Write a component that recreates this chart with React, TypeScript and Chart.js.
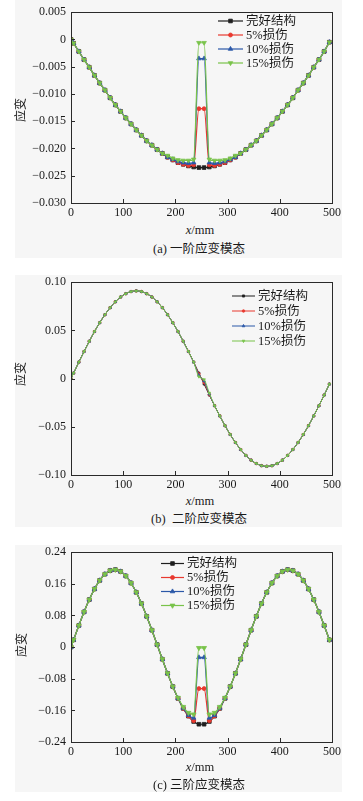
import React, { useEffect, useRef } from "react";
import { Chart, registerables } from "chart.js";

Chart.register(...registerables);

// ---------- data ----------
const xPos = [
  0, 5, 15, 25, 35, 45, 55, 65, 75, 85,
  95, 105, 115, 125, 135, 145, 155, 165, 175, 185,
  195, 205, 215, 225, 235, 245, 255, 265, 275, 285,
  295, 305, 315, 325, 335, 345, 355, 365, 375, 385,
  395, 405, 415, 425, 435, 445, 455, 465, 475, 485,
  495,
];

const legendLabels = ["完好结构", "5%损伤", "10%损伤", "15%损伤"];

const xTickVals = [0, 100, 200, 300, 400, 500];
const xTickLabels = ["0", "100", "200", "300", "400", "500"];

// (a) first-order strain mode
const intactA = [
  0, -0.0007, -0.0022, -0.0037, -0.0051, -0.0066, -0.008, -0.0093, -0.0107, -0.012,
  -0.0132, -0.0144, -0.0155, -0.0166, -0.0176, -0.0186, -0.0194, -0.0202, -0.0209, -0.0216,
  -0.0221, -0.0226, -0.0229, -0.0232, -0.0234, -0.0235, -0.0235, -0.0234, -0.0232, -0.0229,
  -0.0226, -0.0221, -0.0216, -0.0209, -0.0202, -0.0194, -0.0186, -0.0176, -0.0166, -0.0155,
  -0.0144, -0.0132, -0.012, -0.0107, -0.0093, -0.008, -0.0066, -0.0051, -0.0037, -0.0022,
  -0.0005,
];
const dmg5A = [
  0, -0.0007, -0.0022, -0.0037, -0.0051, -0.0066, -0.008, -0.0093, -0.0107, -0.012,
  -0.0132, -0.0144, -0.0155, -0.0166, -0.0176, -0.0186, -0.0194, -0.0202, -0.0209, -0.0216,
  -0.0221, -0.0226, -0.0229, -0.0231, -0.023, -0.0127, -0.0127, -0.023, -0.0231, -0.0229,
  -0.0226, -0.0221, -0.0216, -0.0209, -0.0202, -0.0194, -0.0186, -0.0176, -0.0166, -0.0155,
  -0.0144, -0.0132, -0.012, -0.0107, -0.0093, -0.008, -0.0066, -0.0051, -0.0037, -0.0022,
  -0.0005,
];
const dmg10A = [
  0, -0.0007, -0.0022, -0.0037, -0.0051, -0.0066, -0.008, -0.0093, -0.0107, -0.012,
  -0.0132, -0.0144, -0.0155, -0.0166, -0.0176, -0.0186, -0.0194, -0.0202, -0.0209, -0.0216,
  -0.022, -0.0224, -0.0226, -0.0227, -0.0226, -0.0035, -0.0035, -0.0226, -0.0227, -0.0226,
  -0.0224, -0.022, -0.0216, -0.0209, -0.0202, -0.0194, -0.0186, -0.0176, -0.0166, -0.0155,
  -0.0144, -0.0132, -0.012, -0.0107, -0.0093, -0.008, -0.0066, -0.0051, -0.0037, -0.0022,
  -0.0005,
];
const dmg15A = [
  0, -0.0007, -0.0022, -0.0037, -0.0051, -0.0066, -0.008, -0.0093, -0.0107, -0.012,
  -0.0132, -0.0144, -0.0155, -0.0166, -0.0176, -0.0186, -0.0194, -0.0202, -0.0209, -0.0213,
  -0.0218, -0.0221, -0.0222, -0.0222, -0.022, -0.0006, -0.0006, -0.022, -0.0222, -0.0222,
  -0.0221, -0.0218, -0.0213, -0.0209, -0.0202, -0.0194, -0.0186, -0.0176, -0.0166, -0.0155,
  -0.0144, -0.0132, -0.012, -0.0107, -0.0093, -0.008, -0.0066, -0.0051, -0.0037, -0.0022,
  -0.0005,
];
const yTickValsA = [0.005, 0, -0.005, -0.01, -0.015, -0.02, -0.025, -0.03];
const yTickLabelsA = ["0.005", "0", "\u22120.005", "\u22120.010", "\u22120.015", "\u22120.020", "\u22120.025", "\u22120.030"];

// (b) second-order strain mode
const intactB = [
  0, 0.0057, 0.0171, 0.0281, 0.0387, 0.0488, 0.058, 0.0663, 0.0736, 0.0797,
  0.0846, 0.0881, 0.0903, 0.091, 0.0903, 0.0881, 0.0846, 0.0797, 0.0736, 0.0663,
  0.058, 0.0488, 0.0387, 0.0281, 0.0171, 0.0057, -0.0057, -0.0171, -0.0281, -0.0387,
  -0.0488, -0.058, -0.0663, -0.0736, -0.0797, -0.0846, -0.0881, -0.0903, -0.091, -0.0903,
  -0.0881, -0.0846, -0.0797, -0.0736, -0.0663, -0.058, -0.0488, -0.0387, -0.0281, -0.0171,
  -0.0057,
];
const dmg5B = [
  0, 0.0057, 0.0171, 0.0281, 0.0387, 0.0488, 0.058, 0.0663, 0.0736, 0.0797,
  0.0846, 0.0881, 0.0903, 0.091, 0.0903, 0.0881, 0.0846, 0.0797, 0.0736, 0.0663,
  0.058, 0.0488, 0.0387, 0.0281, 0.0171, 0.0048, -0.0042, -0.0166, -0.0281, -0.0387,
  -0.0488, -0.058, -0.0663, -0.0736, -0.0797, -0.0846, -0.0881, -0.0903, -0.091, -0.0903,
  -0.0881, -0.0846, -0.0797, -0.0736, -0.0663, -0.058, -0.0488, -0.0387, -0.0281, -0.0171,
  -0.0057,
];
const dmg10B = [
  0, 0.0057, 0.0171, 0.0281, 0.0387, 0.0488, 0.058, 0.0663, 0.0736, 0.0797,
  0.0846, 0.0881, 0.0903, 0.091, 0.0903, 0.0881, 0.0846, 0.0797, 0.0736, 0.0663,
  0.058, 0.0488, 0.0387, 0.0281, 0.0171, 0.0035, -0.0025, -0.016, -0.0281, -0.0387,
  -0.0488, -0.058, -0.0663, -0.0736, -0.0797, -0.0846, -0.0881, -0.0903, -0.091, -0.0903,
  -0.0881, -0.0846, -0.0797, -0.0736, -0.0663, -0.058, -0.0488, -0.0387, -0.0281, -0.0171,
  -0.0057,
];
const dmg15B = [
  0, 0.0057, 0.0171, 0.0281, 0.0387, 0.0488, 0.058, 0.0663, 0.0736, 0.0797,
  0.0846, 0.0881, 0.0903, 0.091, 0.0903, 0.0881, 0.0846, 0.0797, 0.0736, 0.0663,
  0.058, 0.0488, 0.0387, 0.0281, 0.0171, 0.002, -0.001, -0.015, -0.0281, -0.0387,
  -0.0488, -0.058, -0.0663, -0.0736, -0.0797, -0.0846, -0.0881, -0.0903, -0.091, -0.0903,
  -0.0881, -0.0846, -0.0797, -0.0736, -0.0663, -0.058, -0.0488, -0.0387, -0.0281, -0.0171,
  -0.0057,
];
const yTickValsB = [0.1, 0.05, 0, -0.05, -0.1];
const yTickLabelsB = ["0.10", "0.05", "0", "\u22120.05", "\u22120.10"];

// (c) third-order strain mode
const intactC = [
  0, 0.0184, 0.0547, 0.089, 0.1201, 0.147, 0.1687, 0.1844, 0.1936, 0.1959,
  0.1913, 0.1799, 0.1621, 0.1386, 0.1102, 0.0778, 0.0427, 0.0062, -0.0307, -0.0664,
  -0.0998, -0.1296, -0.1549, -0.1746, -0.1882, -0.1951, -0.1951, -0.1882, -0.1746, -0.1549,
  -0.1296, -0.0998, -0.0664, -0.0307, 0.0062, 0.0427, 0.0778, 0.1102, 0.1386, 0.1621,
  0.1799, 0.1913, 0.1959, 0.1936, 0.1844, 0.1687, 0.147, 0.1201, 0.089, 0.0547,
  0.0184,
];
const dmg5C = [
  0, 0.0184, 0.0547, 0.089, 0.1201, 0.147, 0.1687, 0.1844, 0.1936, 0.1959,
  0.1913, 0.1799, 0.1621, 0.1386, 0.1102, 0.0778, 0.0427, 0.0062, -0.0307, -0.0664,
  -0.0998, -0.1296, -0.1549, -0.174, -0.186, -0.105, -0.105, -0.186, -0.174, -0.1549,
  -0.1296, -0.0998, -0.0664, -0.0307, 0.0062, 0.0427, 0.0778, 0.1102, 0.1386, 0.1621,
  0.1799, 0.1913, 0.1959, 0.1936, 0.1844, 0.1687, 0.147, 0.1201, 0.089, 0.0547,
  0.0184,
];
const dmg10C = [
  0, 0.0184, 0.0547, 0.089, 0.1201, 0.147, 0.1687, 0.1844, 0.1936, 0.1959,
  0.1913, 0.1799, 0.1621, 0.1386, 0.1102, 0.0778, 0.0427, 0.0062, -0.0307, -0.0664,
  -0.0998, -0.1296, -0.154, -0.172, -0.179, -0.026, -0.026, -0.179, -0.172, -0.154,
  -0.1296, -0.0998, -0.0664, -0.0307, 0.0062, 0.0427, 0.0778, 0.1102, 0.1386, 0.1621,
  0.1799, 0.1913, 0.1959, 0.1936, 0.1844, 0.1687, 0.147, 0.1201, 0.089, 0.0547,
  0.0184,
];
const dmg15C = [
  0, 0.0184, 0.0547, 0.089, 0.1201, 0.147, 0.1687, 0.1844, 0.1936, 0.1959,
  0.1913, 0.1799, 0.1621, 0.1386, 0.1102, 0.0778, 0.0427, 0.0062, -0.0307, -0.0664,
  -0.0998, -0.128, -0.151, -0.166, -0.17, -0.002, -0.002, -0.17, -0.166, -0.151,
  -0.128, -0.0998, -0.0664, -0.0307, 0.0062, 0.0427, 0.0778, 0.1102, 0.1386, 0.1621,
  0.1799, 0.1913, 0.1959, 0.1936, 0.1844, 0.1687, 0.147, 0.1201, 0.089, 0.0547,
  0.0184,
];
const yTickValsC = [0.24, 0.16, 0.08, 0, -0.08, -0.16, -0.24];
const yTickLabelsC = ["0.24", "0.16", "0.08", "0", "\u22120.08", "\u22120.16", "\u22120.24"];

// ---------- styles ----------
const SERIF = '"Liberation Serif", "Noto Sans CJK SC", serif';
const COLORS = ["#1e1e1e", "#e8392f", "#2b58a8", "#79c34a"];
const POINT_STYLES = ["rect", "circle", "triangle", "triangle"];
const POINT_ROT = [0, 0, 0, 180];
const W = 363;
const PLOT_LEFT = 71;
const PLOT_RIGHT = 332;

type Spec = {
  top: number;
  height: number;
  plotTop: number;
  plotBottom: number;
  yMin: number;
  yMax: number;
  yVals: number[];
  yLabels: string[];
  series: number[][];
  radii: number[];
  lineWidth: number;
  legend: { x0: number; x1: number; tx: number; y0: number; dy: number; r: number[] };
};

function drawMarker(ctx: CanvasRenderingContext2D, style: string, rotDeg: number, x: number, y: number, r: number) {
  ctx.beginPath();
  if (style === "rect") {
    const s = r * Math.SQRT1_2;
    ctx.rect(x - s, y - s, 2 * s, 2 * s);
  } else if (style === "circle") {
    ctx.arc(x, y, r, 0, Math.PI * 2);
  } else {
    let rad = (rotDeg * Math.PI) / 180;
    ctx.moveTo(x + Math.sin(rad) * r, y - Math.cos(rad) * r);
    rad += (2 * Math.PI) / 3;
    ctx.lineTo(x + Math.sin(rad) * r, y - Math.cos(rad) * r);
    rad += (2 * Math.PI) / 3;
    ctx.lineTo(x + Math.sin(rad) * r, y - Math.cos(rad) * r);
    ctx.closePath();
  }
  ctx.fill();
  ctx.stroke();
}

function Panel({ spec }: { spec: Spec }) {
  const ref = useRef<HTMLCanvasElement | null>(null);
  useEffect(() => {
    const canvas = ref.current;
    if (!canvas) return;
    const sp = spec;
    const framePlugin = {
      id: "frameTicksLegend",
      afterDatasetsDraw(chart: any) {
        const ctx: CanvasRenderingContext2D = chart.ctx;
        const { left, right, top, bottom } = chart.chartArea;
        ctx.save();
        ctx.strokeStyle = "#2a2a2a";
        ctx.lineWidth = 1;
        ctx.strokeRect(Math.round(left) + 0.5, Math.round(top) + 0.5, Math.round(right - left), Math.round(bottom - top));
        ctx.beginPath();
        xTickVals.forEach((v) => {
          const px = Math.round(chart.scales.x.getPixelForValue(v)) + 0.5;
          ctx.moveTo(px, bottom);
          ctx.lineTo(px, bottom - 4);
        });
        sp.yVals.forEach((v) => {
          const py = Math.round(chart.scales.y.getPixelForValue(v)) + 0.5;
          ctx.moveTo(left, py);
          ctx.lineTo(left + 4, py);
        });
        ctx.stroke();
        // legend
        const L = sp.legend;
        ctx.font = `12.5px ${SERIF}`;
        ctx.textBaseline = "middle";
        ctx.textAlign = "left";
        legendLabels.forEach((lab, i) => {
          const y = L.y0 + i * L.dy;
          ctx.strokeStyle = COLORS[i];
          ctx.fillStyle = COLORS[i];
          ctx.lineWidth = sp.lineWidth;
          ctx.beginPath();
          ctx.moveTo(L.x0, y);
          ctx.lineTo(L.x1, y);
          ctx.stroke();
          ctx.lineWidth = 0.8;
          drawMarker(ctx, POINT_STYLES[i], POINT_ROT[i], (L.x0 + L.x1) / 2, y, L.r[i]);
          ctx.fillStyle = "#1a1a1a";
          ctx.fillText(lab, L.tx, y + 0.5);
        });
        ctx.restore();
      },
    };

    const tickFont = { family: SERIF, size: 12 };
    const chart = new Chart(canvas, {
      type: "line",
      data: {
        datasets: sp.series.map((vals, i) => ({
          label: legendLabels[i],
          data: xPos.map((x, k) => ({ x, y: vals[k] })),
          borderColor: COLORS[i],
          backgroundColor: COLORS[i],
          borderWidth: sp.lineWidth,
          pointRadius: sp.radii[i],
          pointStyle: POINT_STYLES[i] as any,
          pointRotation: POINT_ROT[i],
          pointBorderWidth: 0.8,
          cubicInterpolationMode: "monotone" as const,
          order: 4 - i,
        })),
      },
      options: {
        responsive: false,
        animation: false,
        events: [],
        layout: {
          padding: { top: sp.plotTop - sp.top, right: W - PLOT_RIGHT, left: 0, bottom: 0 },
        },
        plugins: { legend: { display: false }, tooltip: { enabled: false }, title: { display: false } },
        scales: {
          x: {
            type: "linear",
            min: 0,
            max: 500,
            afterBuildTicks: (s: any) => {
              s.ticks = xTickVals.map((v) => ({ value: v }));
            },
            afterFit: (s: any) => {
              s.height = sp.height - (sp.plotBottom - sp.top);
            },
            grid: { display: false, drawTicks: false },
            border: { display: false },
            ticks: {
              padding: 3,
              color: "#1a1a1a",
              font: tickFont,
              maxRotation: 0,
              autoSkip: false,
              callback: (v: any) => {
                const i = xTickVals.indexOf(Number(v));
                return i >= 0 ? xTickLabels[i] : "";
              },
            },
          },
          y: {
            type: "linear",
            min: sp.yMin,
            max: sp.yMax,
            afterBuildTicks: (s: any) => {
              s.ticks = sp.yVals.map((v) => ({ value: v }));
            },
            afterFit: (s: any) => {
              s.width = PLOT_LEFT;
            },
            grid: { display: false, drawTicks: false },
            border: { display: false },
            ticks: {
              padding: 5,
              color: "#1a1a1a",
              font: tickFont,
              autoSkip: false,
              callback: (v: any) => {
                const i = sp.yVals.findIndex((t) => Math.abs(t - Number(v)) < 1e-9);
                return i >= 0 ? sp.yLabels[i] : "";
              },
            },
          },
        },
      } as any,
      plugins: [framePlugin as any],
    });
    return () => chart.destroy();
  }, [spec]);
  return (
    <canvas
      ref={ref}
      width={W}
      height={spec.height}
      style={{ position: "absolute", left: 0, top: spec.top, width: W, height: spec.height }}
    />
  );
}

const specA: Spec = {
  top: 0,
  height: 222,
  plotTop: 10,
  plotBottom: 203,
  yMin: -0.03,
  yMax: 0.005,
  yVals: yTickValsA,
  yLabels: yTickLabelsA,
  series: [intactA, dmg5A, dmg10A, dmg15A],
  radii: [2.6, 2, 2.6, 2.6],
  lineWidth: 1.2,
  legend: { x0: 218, x1: 243, tx: 246, y0: 21, dy: 14, r: [2.6, 2, 2.6, 2.6] },
};
const specB: Spec = {
  top: 270,
  height: 222,
  plotTop: 282,
  plotBottom: 475,
  yMin: -0.1,
  yMax: 0.1,
  yVals: yTickValsB,
  yLabels: yTickLabelsB,
  series: [intactB, dmg5B, dmg10B, dmg15B],
  radii: [1.4, 1.3, 1.5, 1.5],
  lineWidth: 1,
  legend: { x0: 232, x1: 255, tx: 258, y0: 26, dy: 15, r: [1.5, 1.3, 1.6, 1.6] },
};
const specC: Spec = {
  top: 540,
  height: 222,
  plotTop: 551,
  plotBottom: 742,
  yMin: -0.24,
  yMax: 0.24,
  yVals: yTickValsC,
  yLabels: yTickLabelsC,
  series: [intactC, dmg5C, dmg10C, dmg15C],
  radii: [2.6, 2, 2.6, 2.8],
  lineWidth: 1.2,
  legend: { x0: 161, x1: 184, tx: 187, y0: 23.5, dy: 14, r: [2.6, 2, 2.6, 2.8] },
};

const textBase: React.CSSProperties = {
  position: "absolute",
  whiteSpace: "nowrap",
  fontFamily: SERIF,
  lineHeight: 1,
  color: "#1a1a1a",
};

function Txt({ x, y, size, rotate, children }: { x: number; y: number; size: number; rotate?: boolean; children: any }) {
  return (
    <div
      style={{
        ...textBase,
        left: x,
        top: y,
        fontSize: size,
        transform: `translate(-50%, -50%)${rotate ? " rotate(-90deg)" : ""}`,
      }}
    >
      {children}
    </div>
  );
}

export default function App() {
  return (
    <div style={{ position: "absolute", left: 0, top: 0, width: W, height: 801, background: "#ffffff", overflow: "hidden" }}>
      <div style={{ position: "absolute", left: 15, top: 0, width: 327, height: 258, background: "#f6f6f6" }} />
      <div style={{ position: "absolute", left: 15, top: 275, width: 327, height: 252, background: "#f6f6f6" }} />
      <div style={{ position: "absolute", left: 15, top: 545, width: 327, height: 247, background: "#f6f6f6" }} />

      <Panel spec={specA} />
      <Panel spec={specB} />
      <Panel spec={specC} />

      <Txt x={21} y={110} size={12} rotate>应变</Txt>
      <Txt x={200} y={230} size={12.5}><i>x</i>/mm</Txt>
      <Txt x={199} y={249} size={12.5}>(a) 一阶应变模态</Txt>

      <Txt x={21} y={374} size={12} rotate>应变</Txt>
      <Txt x={200} y={501} size={12.5}><i>x</i>/mm</Txt>
      <Txt x={199} y={519} size={12.5}>(b)&nbsp; 二阶应变模态</Txt>

      <Txt x={22} y={645} size={12} rotate>应变</Txt>
      <Txt x={200} y={767} size={12.5}><i>x</i>/mm</Txt>
      <Txt x={199} y={785} size={12.5}>(c) 三阶应变模态</Txt>
    </div>
  );
}
